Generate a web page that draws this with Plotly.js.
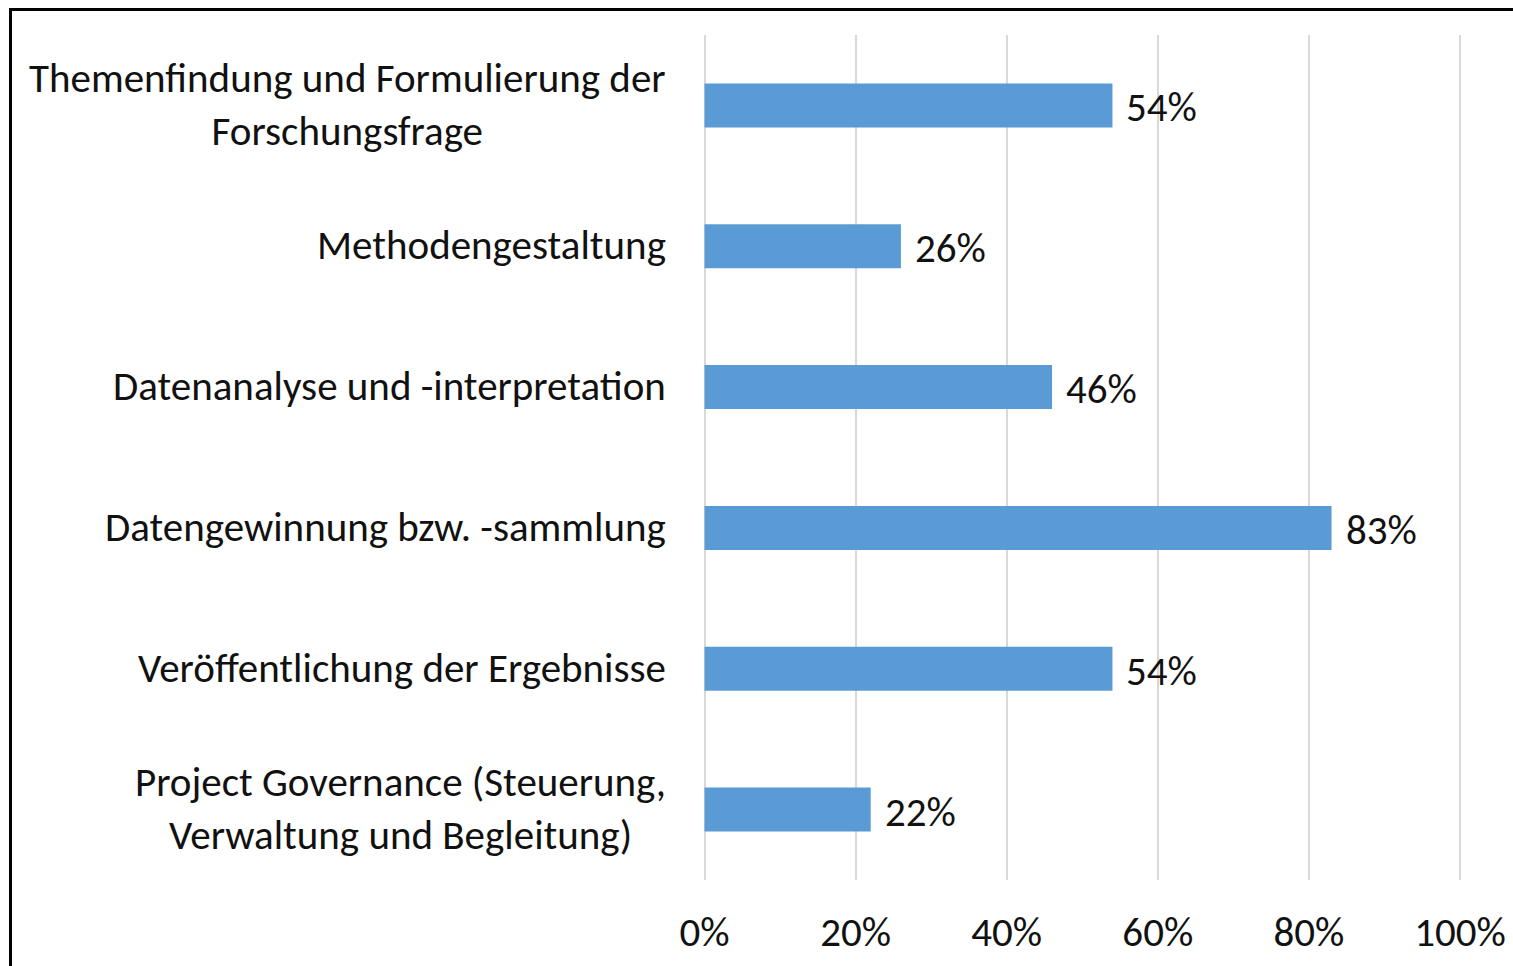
<!DOCTYPE html>
<html>
<head>
<meta charset="utf-8">
<script src="https://cdn.plot.ly/plotly-3.0.1.min.js"></script>
<style>
  html, body { margin: 0; padding: 0; background: #fff; overflow: hidden; }
  #frame { position: absolute; left: 9px; top: 8px; width: 2000px; height: 2000px;
           border-left: 3px solid #000; border-top: 3px solid #000; pointer-events: none; z-index: 5; }
  #chart { position: absolute; left: 0; top: 0; width: 1513px; height: 966px; }
</style>
</head>
<body>
<div id="chart"></div>
<div id="frame"></div>
<script>
const categories = [
  "Themenfindung und Formulierung der<br>Forschungsfrage",
  "Methodengestaltung",
  "Datenanalyse und -interpretation",
  "Datengewinnung bzw. -sammlung",
  "Veröffentlichung der Ergebnisse",
  "Project Governance (Steuerung,<br>Verwaltung und Begleitung)"
];
const values = [0.54, 0.26, 0.46, 0.83, 0.54, 0.22];
const valueLabels = ["54%", "26%", "46%", "83%", "54%", "22%"];
const tickValues = [0, 0.2, 0.4, 0.6, 0.8, 1.0];
const tickLabels = ["0%", "20%", "40%", "60%", "80%", "100%"];

const FONT = "Carlito, Calibri, 'Liberation Sans Narrow', 'Open Sans', sans-serif";
const TXT = "#111111";

const trace = {
  type: "bar",
  orientation: "h",
  y: categories,
  x: values,
  marker: { color: "#5B9BD5" },
  hoverinfo: "none"
};

const annotations = [];
categories.forEach((c, i) => {
  annotations.push({
    xref: "paper", yref: "y", x: 0, y: c, xanchor: "right", yanchor: "middle",
    xshift: -35, yshift: 1, text: c, showarrow: false, align: "center",
    font: { family: FONT, size: 41, color: TXT }
  });
  annotations.push({
    xref: "x", yref: "y", x: values[i], y: c, xanchor: "left", yanchor: "middle",
    xshift: 12, yshift: -2, text: valueLabels[i], showarrow: false,
    font: { family: FONT, size: 41, color: TXT }
  });
});

const layout = {
  width: 1513, height: 966,
  margin: { l: 703, r: 50, t: 35, b: 86 },
  paper_bgcolor: "#ffffff",
  plot_bgcolor: "#ffffff",
  showlegend: false,
  bargap: 0.688,
  font: { family: FONT, size: 41, color: TXT },
  xaxis: {
    range: [-0.002, 1.004],
    tickvals: tickValues,
    ticktext: tickLabels,
    showgrid: true,
    gridcolor: "#d9d9d9",
    gridwidth: 2,
    zeroline: true,
    zerolinecolor: "#d9d9d9",
    zerolinewidth: 2,
    showline: false,
    ticks: "outside",
    ticklen: 16,
    tickcolor: "rgba(0,0,0,0)",
    tickfont: { family: FONT, size: 41, color: TXT },
    fixedrange: true
  },
  yaxis: {
    autorange: "reversed",
    showticklabels: false,
    showgrid: false,
    zeroline: false,
    showline: false,
    ticks: "",
    fixedrange: true
  },
  annotations: annotations
};

Plotly.newPlot("chart", [trace], layout, { displayModeBar: false, staticPlot: true });
</script>
</body>
</html>
